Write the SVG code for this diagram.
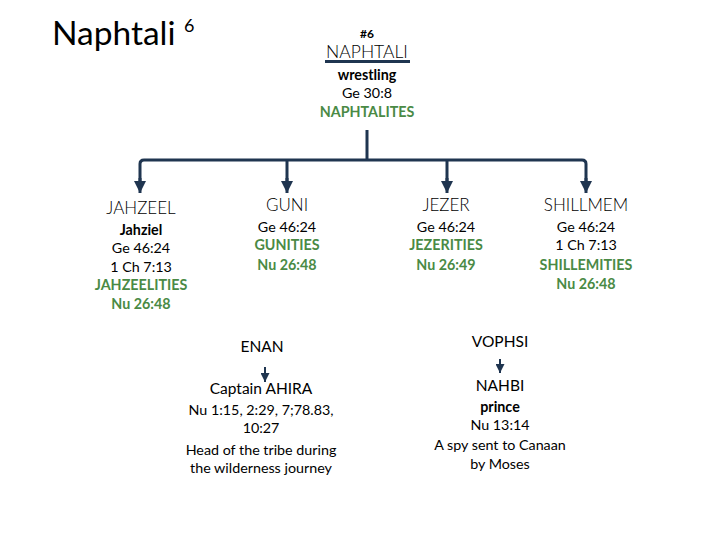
<svg xmlns="http://www.w3.org/2000/svg" width="720" height="540" viewBox="0 0 720 540">
<style>
text{font-family:Lato,"Open Sans","Liberation Sans",sans-serif;fill:#000;text-anchor:middle}
.name{font-size:17px;font-weight:300}
.sm{font-size:14.3px}
.b{font-weight:bold}
.g{fill:#4a8a45;font-weight:bold}
.mid{font-size:15.5px}
.ln{fill:none;stroke:#1f3550;stroke-width:3}
.lt{fill:none;stroke:#1f3550;stroke-width:2}
</style>
<defs>
<marker id="ah" viewBox="0 0 10 10" refX="10" refY="5" markerWidth="4" markerHeight="4" orient="auto" markerUnits="strokeWidth"><path d="M0,0L10,5L0,10z" fill="#1f3550"/></marker>
<marker id="ahs" viewBox="0 0 10 10" refX="10" refY="5" markerWidth="4.5" markerHeight="4.5" orient="auto" markerUnits="strokeWidth"><path d="M0,0L10,5L0,10z" fill="#1f3550"/></marker>
</defs>
<g id="title"><text x="52" y="45" style="font-size:33.5px;text-anchor:start">Naphtali</text><text x="184" y="32" style="font-size:18px;text-anchor:start">6</text></g>
<g id="naphtali">
<text x="367" y="38" style="font-size:12px;font-weight:bold">#6</text>
<text x="367" y="58" style="font-size:17.5px;font-weight:300">NAPHTALI</text>
<rect x="325" y="60" width="85" height="3" fill="#1f3550"/>
<text x="367" y="80" class="sm b">wrestling</text>
<text x="367" y="98" class="sm">Ge 30:8</text>
<text x="367" y="117" class="sm g">NAPHTALITES</text>
</g>
<g id="connectors">
<path class="ln" d="M367,130V160"/>
<path class="ln" d="M140,181V164Q140,160 144,160H582Q586,160 586,164V181"/>
<path class="ln" d="M287,160V181"/>
<path class="ln" d="M447,160V181"/>
<path class="ln" d="M140,178V193" marker-end="url(#ah)"/>
<path class="ln" d="M287,178V193" marker-end="url(#ah)"/>
<path class="ln" d="M447,178V193" marker-end="url(#ah)"/>
<path class="ln" d="M586,178V193" marker-end="url(#ah)"/>
<path class="lt" d="M265,367V382" marker-end="url(#ahs)"/>
<path class="lt" d="M500,359V373" marker-end="url(#ahs)"/>
</g>
<g id="jahzeel">
<text x="141" y="214" class="name">JAHZEEL</text>
<text x="141" y="235" class="sm b">Jahziel</text>
<text x="141" y="253" class="sm">Ge 46:24</text>
<text x="141" y="272" class="sm">1 Ch 7:13</text>
<text x="141" y="290" class="sm g">JAHZEELITIES</text>
<text x="141" y="309" class="sm g">Nu 26:48</text>
</g>
<g id="guni">
<text x="287" y="211" class="name">GUNI</text>
<text x="287" y="232" class="sm">Ge 46:24</text>
<text x="287" y="250" class="sm g">GUNITIES</text>
<text x="287" y="270" class="sm g">Nu 26:48</text>
</g>
<g id="jezer">
<text x="446" y="211" class="name">JEZER</text>
<text x="446" y="232" class="sm">Ge 46:24</text>
<text x="446" y="250" class="sm g">JEZERITIES</text>
<text x="446" y="270" class="sm g">Nu 26:49</text>
</g>
<g id="shillmem">
<text x="586" y="211" class="name">SHILLMEM</text>
<text x="586" y="232" class="sm">Ge 46:24</text>
<text x="586" y="250" class="sm">1 Ch 7:13</text>
<text x="586" y="270" class="sm g">SHILLEMITIES</text>
<text x="586" y="289" class="sm g">Nu 26:48</text>
</g>
<g id="enan"><text x="262" y="352" class="mid">ENAN</text></g>
<g id="ahira">
<text x="261" y="394" class="mid">Captain AHIRA</text>
<text x="261" y="415" class="sm">Nu 1:15, 2:29, 7;78.83,</text>
<text x="261" y="433" class="sm">10:27</text>
<text x="261" y="455" class="sm">Head of the tribe during</text>
<text x="261" y="473" class="sm">the wilderness journey</text>
</g>
<g id="vophsi"><text x="500" y="347" class="mid">VOPHSI</text></g>
<g id="nahbi">
<text x="500" y="391" class="mid">NAHBI</text>
<text x="500" y="412" class="sm b">prince</text>
<text x="500" y="430" class="sm">Nu 13:14</text>
<text x="500" y="450" class="sm">A spy sent to Canaan</text>
<text x="500" y="469" class="sm">by Moses</text>
</g>
</svg>
